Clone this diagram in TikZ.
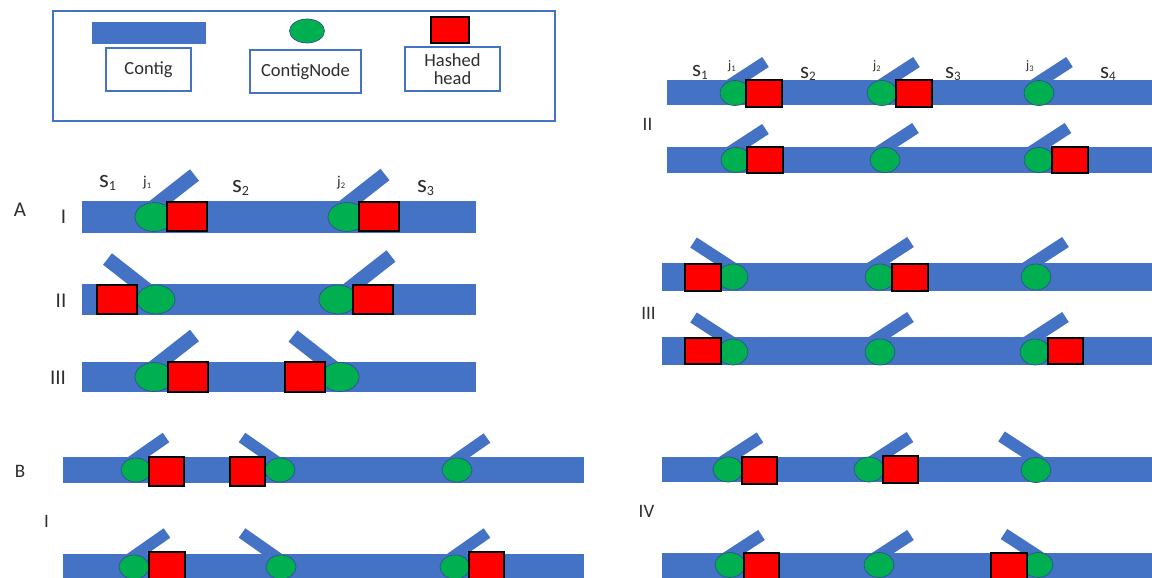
\documentclass[tikz,border=0pt]{standalone}
\usepackage{fontspec}
\setmainfont{Carlito}
\definecolor{barblue}{HTML}{4472C4}
\definecolor{edgeblue}{HTML}{2F528F}
\definecolor{cngreen}{HTML}{00B050}
\definecolor{txt}{HTML}{2E2E2E}
\newcommand{\slabA}[1]{s\raisebox{-0.13em}{\fontsize{14}{14}\selectfont #1}}
\newcommand{\slabR}[1]{s\raisebox{-0.13em}{\fontsize{13}{13}\selectfont #1}}
\newcommand{\jlab}[1]{j\raisebox{-0.15em}{\fontsize{8.5}{8.5}\selectfont #1}}
\begin{document}
\begin{tikzpicture}[x=1pt,y=-1pt,
  bar/.style={fill=barblue},
  brA/.style={draw=barblue,line width=14.5pt},
  brR/.style={draw=barblue,line width=12pt},
  brB/.style={draw=barblue,line width=11.5pt},
  cn/.style={fill=cngreen,draw=edgeblue,line width=0.7pt},
  hh/.style={fill=red,draw=black,line width=1.3pt},
  lbox/.style={draw=barblue,line width=1.3pt,fill=white,text=txt,font=\fontsize{18.5}{20}\selectfont,align=center,inner sep=0pt},
  rlA/.style={text=txt,font=\fontsize{21}{21}\selectfont,inner sep=0pt,anchor=base},
  rlR/.style={text=txt,font=\fontsize{19}{19}\selectfont,inner sep=0pt,anchor=base},
  slA/.style={text=txt,font=\fontsize{25}{25}\selectfont,inner sep=0pt,anchor=base west},
  slR/.style={text=txt,font=\fontsize{23}{23}\selectfont,inner sep=0pt,anchor=base west},
  jlA/.style={text=txt,font=\fontsize{15}{15}\selectfont,inner sep=0pt,anchor=base west},
  jlR/.style={text=txt,font=\fontsize{13}{13}\selectfont,inner sep=0pt,anchor=base west}]
\useasboundingbox (0,0) rectangle (1152,578);
\clip (0,0) rectangle (1152,578);
\fill[white] (0,0) rectangle (1152,578);

% ---------------- legend ----------------
\node[draw=barblue,line width=1.3pt,minimum width=502pt,minimum height=110pt,inner sep=0pt] (legend) at (304,66) {};
\fill[barblue] (92,22) rectangle (206,44);
\node[lbox,minimum width=85pt,minimum height=43pt] (lgContig) at (148.5,69.5) {Contig};
\draw[cn] (307,31) ellipse [x radius=17.5pt, y radius=12pt];
\node[lbox,minimum width=111pt,minimum height=43pt] (lgNode) at (305.5,71.5) {ContigNode};
\draw[hh] (431,17) rectangle (469,43);
\node[lbox,minimum width=95pt,minimum height=44pt] (lgHead) at (452.5,69) {Hashed\\[-2pt]head};

% ---------------- panel A ----------------
\node[rlA] (lblA) at (20,216) {A};
\node[rlA] (lblAI) at (63.5,223) {I};
\node[rlA] (lblAII) at (61,307) {II};
\node[rlA] (lblAIII) at (58,384) {III};
\node[slA] (As1) at (99,187) {\slabA{1}};
\node[jlA] (Aj1) at (143,186) {\jlab{1}};
\node[slA] (As2) at (232,192) {\slabA{2}};
\node[jlA] (Aj2) at (337,186) {\jlab{2}};
\node[slA] (As3) at (417,192) {\slabA{3}};

\fill[bar] (82,201) rectangle (476,233);
\fill[bar] (82,284) rectangle (476,315);
\fill[bar] (82,362) rectangle (476,392);
\draw[brA] (194.5,175) -- ++(-43.3,33.9);
\draw[brA] (385,174.5) -- ++(-43.3,33.9);
\draw[brA] (107.5,259) -- ++(43.3,33.9);
\draw[brA] (391,256) -- ++(-43.3,33.9);
\draw[brA] (194.5,335.5) -- ++(-43.3,33.9);
\draw[brA] (293,336) -- ++(43.3,33.9);
\draw[cn] (154,217) ellipse [x radius=19pt, y radius=14.5pt];
\draw[cn] (347,217) ellipse [x radius=19pt, y radius=14.5pt];
\draw[cn] (156,299.5) ellipse [x radius=19pt, y radius=14.5pt];
\draw[cn] (338,299.5) ellipse [x radius=19pt, y radius=14.5pt];
\draw[cn] (154,377) ellipse [x radius=19pt, y radius=14.5pt];
\draw[cn] (340,377) ellipse [x radius=19pt, y radius=14.5pt];
\draw[hh] (167,202) rectangle (207,231);
\draw[hh] (359,202) rectangle (399,231);
\draw[hh] (97,285) rectangle (137,314);
\draw[hh] (353,285) rectangle (393,314);
\draw[hh] (168,362) rectangle (208,392);
\draw[hh] (285,362) rectangle (325,392);

% ---------------- panel B ----------------
\node[rlR] (lblB) at (20,477) {B};
\node[rlR] (lblBI) at (46.5,527) {I};
\fill[bar] (63,457) rectangle (584,483);
\fill[bar] (63,554) rectangle (584,590);
\draw[brB] (166,437.5) -- ++(-36.9,25.8);
\draw[brB] (242,437.5) -- ++(36.9,25.8);
\draw[brB] (487,438) -- ++(-36.9,25.8);
\draw[brB] (167,533) -- ++(-36.9,25.8);
\draw[brB] (242,533) -- ++(36.9,25.8);
\draw[brB] (487,533) -- ++(-36.9,25.8);
\draw[cn] (136,470) ellipse [x radius=15pt, y radius=12pt];
\draw[cn] (280,470) ellipse [x radius=15pt, y radius=12pt];
\draw[cn] (457,470) ellipse [x radius=15pt, y radius=12pt];
\draw[cn] (134,567) ellipse [x radius=15pt, y radius=12pt];
\draw[cn] (281,567) ellipse [x radius=15pt, y radius=12pt];
\draw[cn] (455,567) ellipse [x radius=15pt, y radius=12pt];
\draw[hh] (149,457) rectangle (184,486);
\draw[hh] (230,457) rectangle (265,486);
\draw[hh] (149,552) rectangle (185,588);
\draw[hh] (469,552) rectangle (504,588);

% ---------------- right panel ----------------
\node[slR] (Rs1) at (692,77) {\slabR{1}};
\node[jlR] (Rj1) at (728,70) {\jlab{1}};
\node[slR] (Rs2) at (800,78) {\slabR{2}};
\node[jlR] (Rj2) at (873,70) {\jlab{2}};
\node[slR] (Rs3) at (945,78) {\slabR{3}};
\node[jlR] (Rj3) at (1026,70) {\jlab{3}};
\node[slR] (Rs4) at (1100,78) {\slabR{4}};
\node[rlR] (lblRII) at (647.5,130) {II};
\node[rlR] (lblRIII) at (648.5,319) {III};
\node[rlR] (lblRIV) at (646.5,517) {IV};

\fill[bar] (667,80) rectangle (1160,105);
\fill[bar] (667,147) rectangle (1160,173);
\fill[bar] (662,263) rectangle (1160,291);
\fill[bar] (662,337) rectangle (1160,365);
\fill[bar] (662,457) rectangle (1160,482);
\fill[bar] (662,553) rectangle (1160,590);

\draw[brR] (765.5,62) -- ++(-40.3,26.2);
\draw[brR] (916.5,62) -- ++(-40.3,26.2);
\draw[brR] (1069.5,62) -- ++(-40.3,26.2);
\draw[brR] (765.5,129) -- ++(-40.3,26.2);
\draw[brR] (915.5,128) -- ++(-40.3,26.2);
\draw[brR] (1068,128) -- ++(-40.3,26.2);
\draw[brR] (693.5,242.5) -- ++(40.3,26.2);
\draw[brR] (910.5,242) -- ++(-40.3,26.2);
\draw[brR] (1065.5,242) -- ++(-40.3,26.2);
\draw[brR] (693.5,317.5) -- ++(40.3,26.2);
\draw[brR] (910.5,317) -- ++(-40.3,26.2);
\draw[brR] (1065.5,317) -- ++(-40.3,26.2);
\draw[brR] (760,437.5) -- ++(-40.3,26.2);
\draw[brR] (910,437) -- ++(-40.3,26.2);
\draw[brR] (1001.5,436.5) -- ++(40.3,26.2);
\draw[brR] (761.5,535) -- ++(-40.3,26.2);
\draw[brR] (910.5,535) -- ++(-40.3,26.2);
\draw[brR] (1004,534) -- ++(40.3,26.2);

\draw[cn] (735,93) ellipse [x radius=15pt, y radius=12.5pt];
\draw[cn] (882,93) ellipse [x radius=15pt, y radius=12.5pt];
\draw[cn] (1039,93) ellipse [x radius=15pt, y radius=12.5pt];
\draw[cn] (736,160) ellipse [x radius=15pt, y radius=12.5pt];
\draw[cn] (885,160) ellipse [x radius=15pt, y radius=12.5pt];
\draw[cn] (1039,160) ellipse [x radius=15pt, y radius=12.5pt];
\draw[cn] (733,277) ellipse [x radius=15pt, y radius=13pt];
\draw[cn] (880,277) ellipse [x radius=15pt, y radius=13pt];
\draw[cn] (1036,277) ellipse [x radius=15pt, y radius=13pt];
\draw[cn] (733,352) ellipse [x radius=15pt, y radius=13pt];
\draw[cn] (880,352) ellipse [x radius=15pt, y radius=13pt];
\draw[cn] (1035,352) ellipse [x radius=15pt, y radius=13pt];
\draw[cn] (728,469.5) ellipse [x radius=15pt, y radius=12.5pt];
\draw[cn] (869,469.5) ellipse [x radius=15pt, y radius=12.5pt];
\draw[cn] (1036,470) ellipse [x radius=15pt, y radius=12.5pt];
\draw[cn] (730,565) ellipse [x radius=15pt, y radius=12.5pt];
\draw[cn] (879,565) ellipse [x radius=15pt, y radius=12.5pt];
\draw[cn] (1038,565) ellipse [x radius=15pt, y radius=12.5pt];

\draw[hh] (746,80) rectangle (782,107);
\draw[hh] (896,80) rectangle (932,107);
\draw[hh] (747,147) rectangle (783,173);
\draw[hh] (1052,147) rectangle (1088,173);
\draw[hh] (685,264) rectangle (721,291);
\draw[hh] (892,264) rectangle (928,291);
\draw[hh] (685,338) rectangle (721,364);
\draw[hh] (1048,338) rectangle (1083,364);
\draw[hh] (742,457) rectangle (777,484);
\draw[hh] (883,456) rectangle (918,483);
\draw[hh] (744,553) rectangle (779,588);
\draw[hh] (991,553) rectangle (1027,588);
\end{tikzpicture}
\end{document}
